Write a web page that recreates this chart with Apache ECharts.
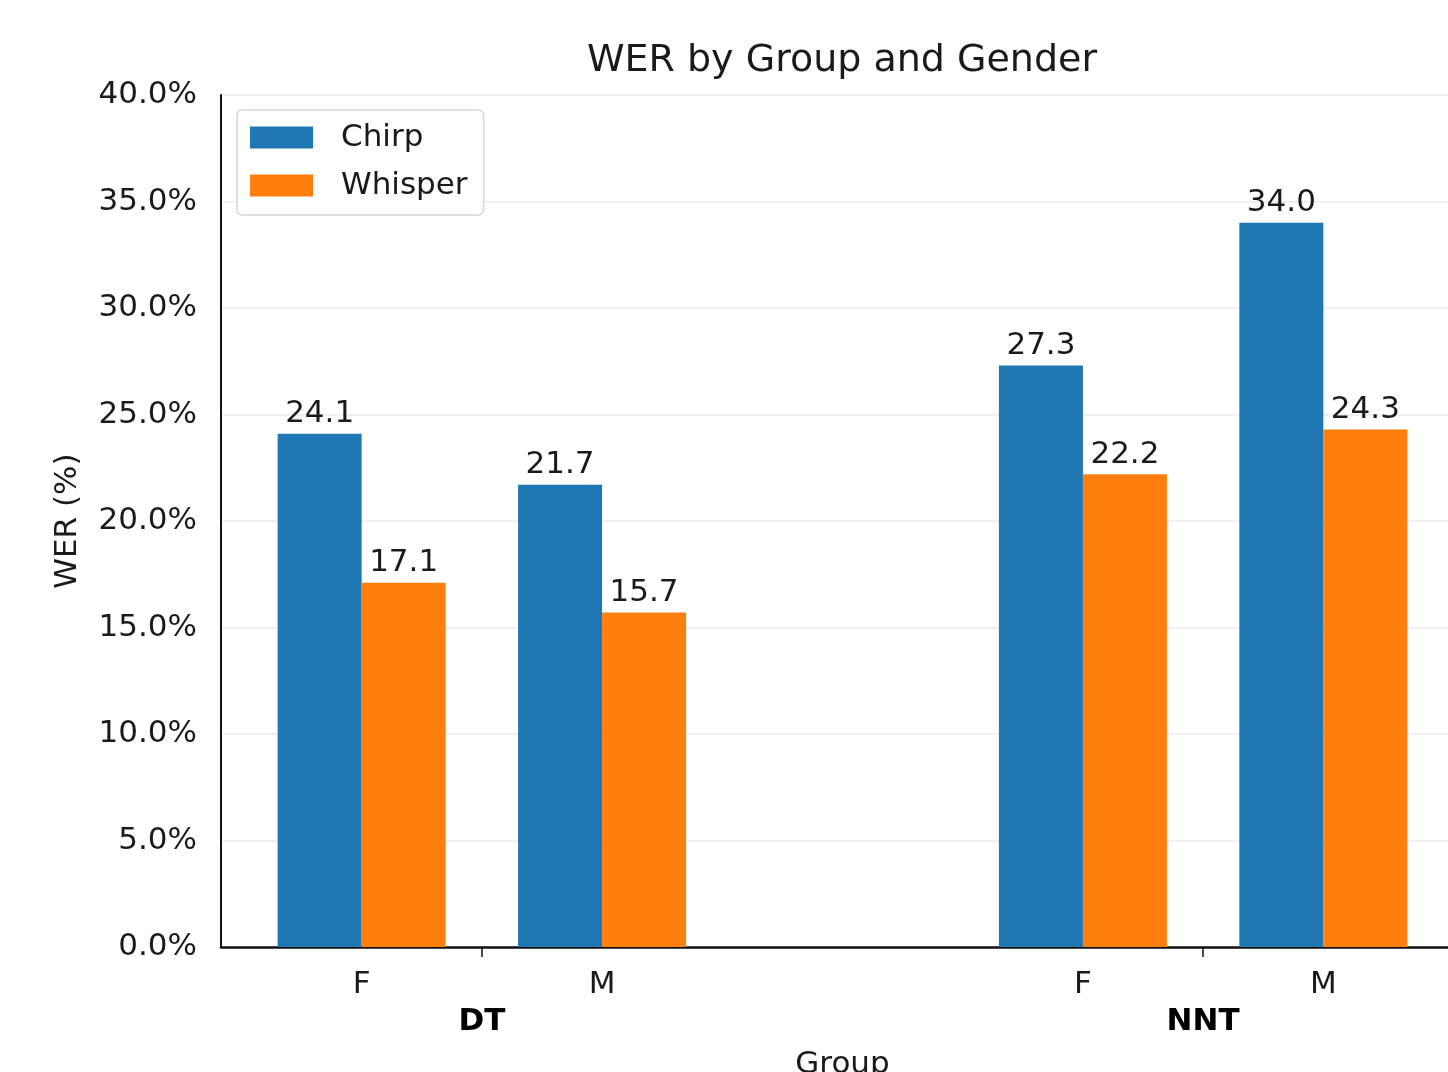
<!DOCTYPE html>
<html>
<head>
<meta charset="utf-8">
<script src="https://cdn.jsdelivr.net/npm/echarts@6/dist/echarts.min.js"></script>
<style>
  html, body { margin: 0; padding: 0; background: #fff; }
  #wer-chart { width: 1448px; height: 1072px; }
</style>
</head>
<body>
<div id="wer-chart"></div>
<script>
// data
var genders = ['F', 'M', 'F', 'M'];
var xPos = [0, 1, 3, 4];
var groups = ['DT', 'NNT'];
var groupPos = [0.5, 3.5];
var chirp = [24.1, 21.7, 27.3, 34.0];
var whisper = [17.1, 15.7, 22.2, 24.3];

var FONT = 'DejaVu Sans';

function pairs(vals) {
  var out = [];
  for (var i = 0; i < vals.length; i++) {
    out.push([xPos[i], vals[i]]);
  }
  return out;
}

function lookup(keys, names) {
  return function (v) {
    for (var i = 0; i < keys.length; i++) {
      if (Math.abs(keys[i] - v) < 1e-6) return names[i];
    }
    return '';
  };
}

var myChart = echarts.init(document.getElementById('wer-chart'));

var barLabel = {
  show: true,
  position: 'top',
  distance: 4,
  fontFamily: FONT,
  fontSize: 31,
  color: '#1a1a1a',
  formatter: function (p) { return p.value[1].toFixed(1); }
};

var option = {
  backgroundColor: '#fff',
  animation: false,
  textStyle: { fontFamily: FONT },
  title: {
    text: 'WER by Group and Gender',
    left: 842,
    top: 42,
    padding: 0,
    textAlign: 'center',
    textStyle: { fontFamily: FONT, fontSize: 38, fontWeight: 'normal', color: '#1a1a1a' }
  },
  legend: {
    orient: 'vertical',
    left: 237,
    top: 110,
    padding: [12, 16, 14, 13],
    backgroundColor: '#fff',
    borderColor: '#d6d6d6',
    borderWidth: 1.5,
    borderRadius: 5,
    icon: 'rect',
    itemWidth: 63,
    itemHeight: 22,
    itemGap: 17,
    textStyle: { fontFamily: FONT, fontSize: 31, color: '#1a1a1a', lineHeight: 31, padding: [0, 0, 0, 23] },
    data: ['Chirp', 'Whisper']
  },
  grid: {
    left: 221,
    right: -16,
    top: 95,
    bottom: 125,
    outerBoundsMode: 'none'
  },
  xAxis: [{
    type: 'value',
    min: -0.585,
    max: 4.585,
    position: 'bottom',
    splitLine: { show: false },
    axisLine: { show: true, lineStyle: { color: '#111', width: 2.5 } },
    axisTick: { show: true, length: 10, customValues: groupPos, lineStyle: { color: '#111', width: 1.5 } },
    axisLabel: {
      customValues: xPos,
      formatter: lookup(xPos, genders),
      margin: 22,
      fontFamily: FONT,
      fontSize: 31,
      color: '#1a1a1a'
    },
    name: 'Group',
    nameLocation: 'middle',
    nameGap: 102,
    nameTextStyle: { fontFamily: FONT, fontSize: 31, color: '#1a1a1a' }
  }, {
    type: 'value',
    min: -0.585,
    max: 4.585,
    position: 'bottom',
    splitLine: { show: false },
    axisLine: { show: false },
    axisTick: { show: false },
    axisLabel: {
      customValues: groupPos,
      formatter: lookup(groupPos, groups),
      margin: 59,
      fontFamily: FONT,
      fontSize: 31,
      fontWeight: 'bold',
      color: '#000'
    }
  }],
  yAxis: {
    type: 'value',
    min: 0,
    max: 40,
    interval: 5,
    axisLine: { show: true, onZero: false, lineStyle: { color: '#111', width: 2 } },
    axisTick: { show: false },
    splitLine: { show: true, lineStyle: { color: '#ebebeb', width: 1.5 } },
    axisLabel: {
      margin: 24,
      fontFamily: FONT,
      fontSize: 31,
      color: '#1a1a1a',
      formatter: function (v) { return v.toFixed(1) + '%'; }
    },
    name: 'WER (%)',
    nameLocation: 'middle',
    nameGap: 138,
    nameTextStyle: { fontFamily: FONT, fontSize: 31, color: '#1a1a1a' }
  },
  series: [{
    name: 'Chirp',
    type: 'bar',
    xAxisIndex: 0,
    barWidth: 84,
    barGap: '0%',
    itemStyle: { color: '#1f77b4' },
    label: barLabel,
    data: pairs(chirp)
  }, {
    name: 'Whisper',
    type: 'bar',
    xAxisIndex: 0,
    barWidth: 84,
    barGap: '0%',
    itemStyle: { color: '#ff7f0e' },
    label: barLabel,
    data: pairs(whisper)
  }]
};

myChart.setOption(option);
</script>
</body>
</html>
